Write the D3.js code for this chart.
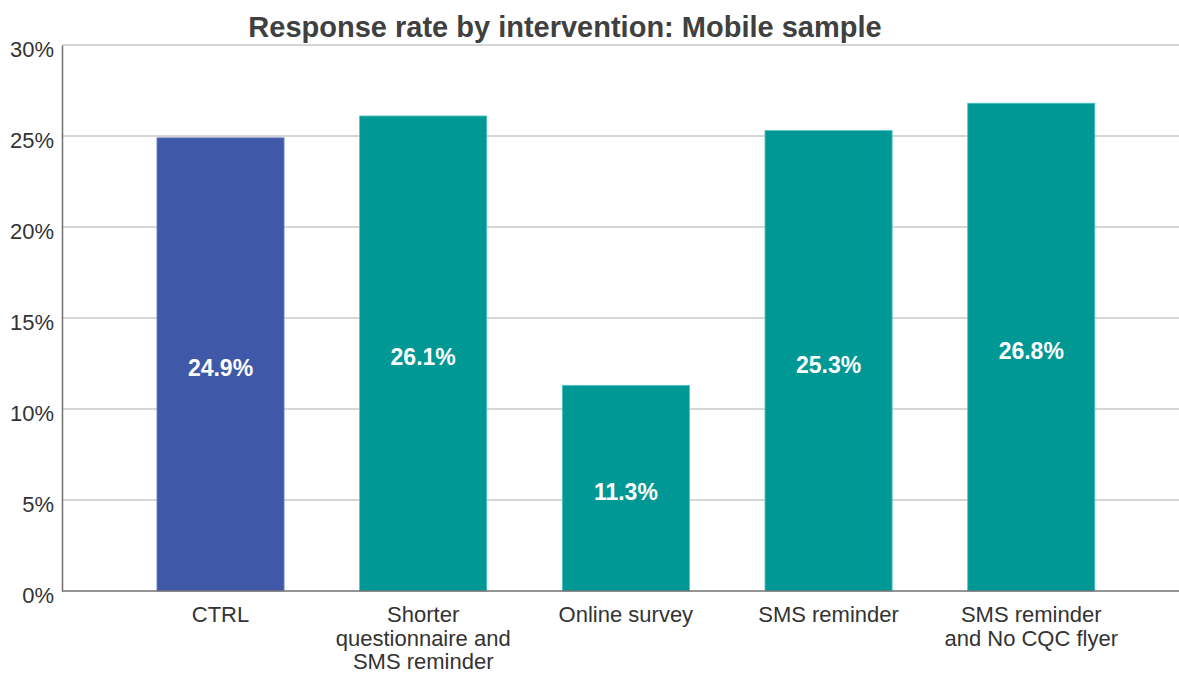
<!DOCTYPE html>
<html>
<head>
<meta charset="utf-8">
<script src="https://cdn.jsdelivr.net/npm/d3@7"></script>
<style>
  html, body { margin: 0; padding: 0; background: #fff; }
  svg { display: block; font-family: "Liberation Sans", Arial, sans-serif; }
</style>
</head>
<body>
<svg id="chart" width="1179" height="673"></svg>
<script>
// Response rate (%) for each mailing intervention, mobile sample
const categories = [
  "CTRL",
  "Shorter\nquestionnaire and\nSMS reminder",
  "Online survey",
  "SMS reminder",
  "SMS reminder\nand No CQC flyer"
];
const responseRates = [24.9, 26.1, 11.3, 25.3, 26.8];
const yTicks = [0, 5, 10, 15, 20, 25, 30];
const chartTitle = "Response rate by intervention: Mobile sample";

const data = categories.map((c, i) => ({ category: c, value: responseRates[i] }));

const svg = d3.select("#chart");
const W = 1179;
const margin = { left: 62, right: 0, top: 45, bottom: 82 };
const plotBottom = 591;

const x = d3.scaleBand()
  .domain(categories)
  .range([margin.left, W - margin.right])
  .paddingInner(0.373)
  .paddingOuter(0.442)
  .align(0.53);

const y = d3.scaleLinear()
  .domain([0, 30])
  .range([plotBottom, margin.top]);

const color = d => d === "CTRL" ? "#3f59a8" : "#009895";
const edge = d => d === "CTRL" ? "#6f84c4" : "#4fc2bf";

// horizontal gridlines
svg.append("g")
  .selectAll("line")
  .data(yTicks.filter(t => t > 0))
  .join("line")
  .attr("x1", margin.left)
  .attr("x2", W)
  .attr("y1", d => y(d))
  .attr("y2", d => y(d))
  .attr("stroke", "#d6d6d6")
  .attr("stroke-width", 2);

// bars
svg.append("g")
  .selectAll("rect")
  .data(data)
  .join("rect")
  .attr("x", d => x(d.category))
  .attr("y", d => y(d.value))
  .attr("width", x.bandwidth())
  .attr("height", d => y(0) - y(d.value))
  .attr("fill", d => color(d.category))
  .attr("stroke", d => edge(d.category))
  .attr("stroke-width", 0.8);

// value labels centred inside each bar
svg.append("g")
  .selectAll("text")
  .data(data)
  .join("text")
  .attr("x", d => x(d.category) + x.bandwidth() / 2)
  .attr("y", d => (y(d.value) + y(0)) / 2)
  .attr("dy", "0.52em")
  .attr("text-anchor", "middle")
  .attr("fill", "#ffffff")
  .attr("font-size", 23)
  .attr("font-weight", "bold")
  .text(d => d.value.toFixed(1) + "%");

// y axis
const yAxis = d3.axisLeft(y)
  .tickValues(yTicks)
  .tickFormat(d => d + "%")
  .tickSize(0)
  .tickPadding(8);

const gy = svg.append("g")
  .attr("transform", `translate(${margin.left},0)`)
  .call(yAxis);
gy.select(".domain").attr("stroke", "#707070").attr("stroke-width", 1.5);
gy.selectAll("text")
  .attr("font-size", 22)
  .attr("fill", "#333333")
  .attr("font-family", "Liberation Sans, Arial, sans-serif")
  .attr("dy", "0.5em");

// x axis
const xAxis = d3.axisBottom(x).tickSize(0).tickFormat("");
const gx = svg.append("g")
  .attr("transform", `translate(0,${plotBottom})`)
  .call(xAxis);
gx.select(".domain")
  .attr("d", `M${margin.left},0H${W}`)
  .attr("stroke", "#707070")
  .attr("stroke-width", 1.5);

// multi-line category labels
const labels = svg.append("g")
  .selectAll("text")
  .data(categories)
  .join("text")
  .attr("text-anchor", "middle")
  .attr("font-size", 22)
  .attr("fill", "#333333")
  .attr("x", d => x(d) + x.bandwidth() / 2)
  .attr("y", plotBottom + 31);

labels.selectAll("tspan")
  .data(d => d.split("\n").map(line => ({ line, cx: x(d) + x.bandwidth() / 2 })))
  .join("tspan")
  .attr("x", t => t.cx)
  .attr("dy", (t, i) => i === 0 ? 0 : 23.5)
  .text(t => t.line);

// title
svg.append("text")
  .attr("x", 565)
  .attr("y", 37)
  .attr("text-anchor", "middle")
  .attr("font-size", 29)
  .attr("font-weight", "bold")
  .attr("fill", "#404040")
  .text(chartTitle);
</script>
</body>
</html>
